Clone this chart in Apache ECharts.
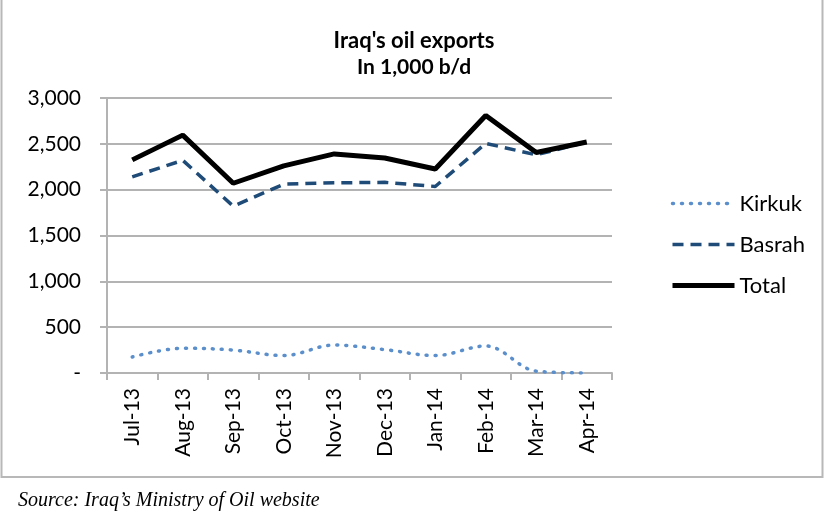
<!DOCTYPE html>
<html>
<head>
<meta charset="utf-8">
<script src="https://cdn.jsdelivr.net/npm/echarts@6/dist/echarts.min.js"></script>
<style>
  html, body { margin: 0; padding: 0; background: #fff; }
  #chart { width: 826px; height: 521px; }
</style>
</head>
<body>
<div id="chart"></div>
<script>
// months on the x axis
const months = ['Jul-13', 'Aug-13', 'Sep-13', 'Oct-13', 'Nov-13', 'Dec-13', 'Jan-14', 'Feb-14', 'Mar-14', 'Apr-14']
// exports, 1,000 b/d
const kirkuk = [175, 270, 250, 190, 305, 255, 190, 295, 20, 0]
const basrah = [2140, 2320, 1820, 2060, 2075, 2080, 2035, 2505, 2380, 2520]
const total = [2325, 2595, 2070, 2260, 2390, 2345, 2225, 2810, 2405, 2520]

const font = 'Lato, "Open Sans", sans-serif'
const grey = '#b3b3b3'

const chart = echarts.init(document.getElementById('chart'))
chart.setOption({
  animation: false,
  title: {
    text: "Iraq's oil exports",
    subtext: 'In 1,000 b/d',
    left: 409,
    textAlign: 'center',
    top: 25,
    itemGap: 5,
    textStyle: { fontFamily: font, fontSize: 22, fontWeight: 'bold', color: '#000' },
    subtextStyle: { fontFamily: font, fontSize: 21, fontWeight: 'bold', color: '#000' }
  },
  legend: {
    orient: 'vertical',
    left: 665,
    top: 187,
    itemWidth: 62,
    itemHeight: 14,
    itemGap: 18,
    itemStyle: { opacity: 0 },
    lineStyle: { width: 'inherit' },
    textStyle: { fontFamily: font, fontSize: 22, lineHeight: 23, color: '#000' },
    data: ['Kirkuk', 'Basrah', 'Total']
  },
  grid: { left: 107, right: 214, top: 98, bottom: 148 },
  xAxis: {
    type: 'category',
    data: months,
    boundaryGap: true,
    axisLine: { lineStyle: { color: grey, width: 2 } },
    axisTick: { show: true, length: 7, lineStyle: { color: grey, width: 2 } },
    axisLabel: { rotate: 90, fontFamily: font, fontSize: 21, color: '#000', margin: 15 }
  },
  yAxis: {
    type: 'value',
    min: 0,
    max: 3000,
    interval: 500,
    axisLine: { show: true, lineStyle: { color: grey, width: 2 } },
    axisTick: { show: true, length: 7, lineStyle: { color: grey, width: 2 } },
    splitLine: { lineStyle: { color: grey, width: 2 } },
    axisLabel: {
      fontFamily: font, fontSize: 21, color: '#000', margin: 26,
      formatter: v => v === 0 ? '-' : v.toLocaleString('en-US')
    }
  },
  series: [
    {
      name: 'Kirkuk', type: 'line', data: kirkuk, smooth: 0.35, symbol: 'none',
      lineStyle: { color: '#5b8fcc', width: 3.5, type: [1, 8], cap: 'round' },
      itemStyle: { color: '#5b8fcc' }
    },
    {
      name: 'Basrah', type: 'line', data: basrah, symbol: 'none',
      lineStyle: { color: '#1f4b78', width: 3.5, type: [11, 7] },
      itemStyle: { color: '#1f4b78' }
    },
    {
      name: 'Total', type: 'line', data: total, symbol: 'none',
      lineStyle: { color: '#000', width: 5 },
      itemStyle: { color: '#000' }
    }
  ],
  graphic: [
    {
      type: 'polyline',
      shape: { points: [[1.5, 0], [1.5, 477], [822.5, 477], [822.5, 0]] },
      style: { stroke: '#b8b8b8', lineWidth: 2, fill: null }
    },
    {
      type: 'text',
      left: 18,
      top: 491,
      style: {
        text: "Source: Iraq’s Ministry of Oil website",
        font: 'italic 20px "Liberation Serif", serif',
        fill: '#000'
      }
    }
  ]
})
</script>
</body>
</html>
